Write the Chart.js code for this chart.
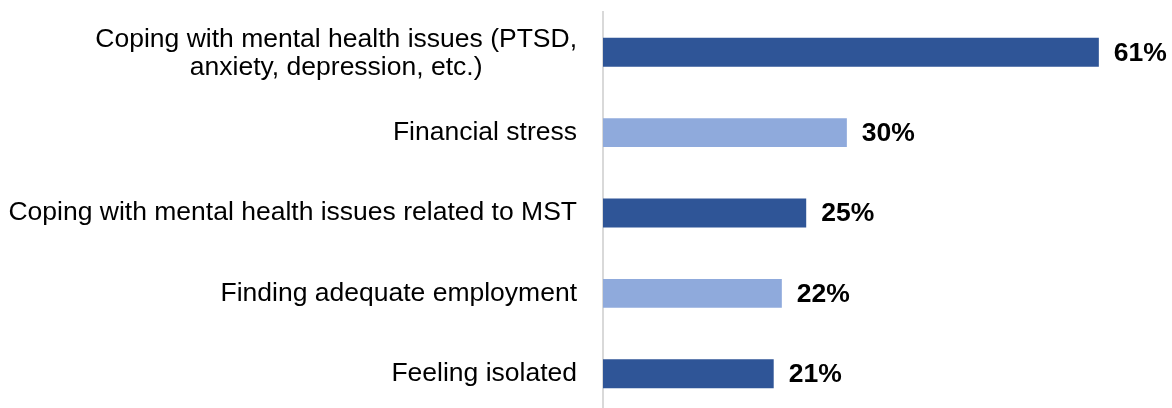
<!DOCTYPE html>
<html>
<head>
<meta charset="utf-8">
<script src="https://cdn.jsdelivr.net/npm/chart.js@4"></script>
<style>
  html, body { margin: 0; padding: 0; background: #fff; overflow: hidden; }
  #wrap { width: 1172px; height: 414px; }
</style>
</head>
<body>
<div id="wrap"><canvas id="c" width="1172" height="414"></canvas></div>
<script>
const categories = [
  ["Coping with mental health issues (PTSD,", "anxiety, depression, etc.)"],
  "Financial stress",
  "Coping with mental health issues related to MST",
  "Finding adequate employment",
  "Feeling isolated"
];
const values = [61, 30, 25, 22, 21];
const barColors = ["#2F5597", "#8FAADC", "#2F5597", "#8FAADC", "#2F5597"];

const FONT = "'Liberation Sans', Arial, Helvetica, sans-serif";

const labelPlugin = {
  id: 'catLabels',
  afterDraw(chart) {
    const ctx = chart.ctx;
    const y = chart.scales.y;
    const right = chart.chartArea.left - 26;
    ctx.save();
    ctx.font = "26.5px " + FONT;
    ctx.fillStyle = "#000";
    ctx.textBaseline = "middle";
    categories.forEach((lab, i) => {
      const cy = y.getPixelForValue(i);
      const lines = Array.isArray(lab) ? lab : [lab];
      if (lines.length === 1) {
        ctx.textAlign = "right";
        ctx.fillText(lines[0], right, cy);
      } else {
        const maxW = Math.max(...lines.map(l => ctx.measureText(l).width));
        const cx = right - maxW / 2;
        ctx.textAlign = "center";
        const lh = 27.5;
        lines.forEach((l, k) => {
          ctx.fillText(l, cx, cy + 1.5 + (k - (lines.length - 1) / 2) * lh);
        });
      }
    });
    ctx.restore();
  }
};

const valuePlugin = {
  id: 'valLabels',
  afterDatasetsDraw(chart) {
    const ctx = chart.ctx;
    const meta = chart.getDatasetMeta(0);
    ctx.save();
    ctx.font = "bold 26.5px " + FONT;
    ctx.fillStyle = "#000";
    ctx.textBaseline = "middle";
    ctx.textAlign = "left";
    meta.data.forEach((bar, i) => {
      ctx.fillText(values[i] + "%", bar.x + 15, bar.y + 1);
    });
    ctx.restore();
  }
};

new Chart(document.getElementById('c'), {
  type: 'bar',
  data: {
    labels: categories,
    datasets: [{
      data: values,
      backgroundColor: barColors,
      borderWidth: 0,
      barPercentage: 0.36,
      categoryPercentage: 1.0
    }]
  },
  options: {
    indexAxis: 'y',
    responsive: false,
    animation: false,
    events: [],
    layout: { padding: { top: 12, bottom: 0, left: 0, right: 0 } },
    plugins: { legend: { display: false }, tooltip: { enabled: false } },
    scales: {
      x: { display: false, min: 0, max: 70 },
      y: {
        display: true,
        grid: { display: false },
        border: { display: true, color: "#d9d9d9", width: 2 },
        ticks: { display: false },
        afterFit(scale) { scale.width = 603; }
      }
    }
  },
  plugins: [labelPlugin, valuePlugin]
});
</script>
</body>
</html>
